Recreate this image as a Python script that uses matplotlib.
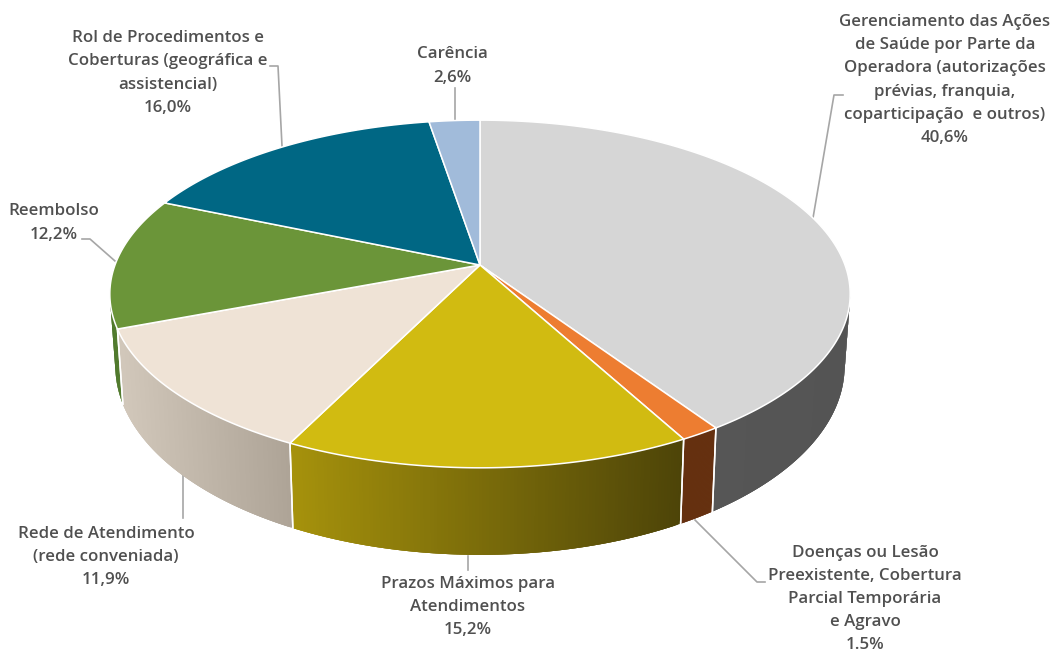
import numpy as np
import matplotlib
matplotlib.use("Agg")
import matplotlib.pyplot as plt
from matplotlib.collections import PolyCollection
from matplotlib.colors import to_rgb

categories = [
    "Gerenciamento das Ações\nde Saúde por Parte da\nOperadora (autorizações\nprévias, franquia,\ncoparticipação  e outros)",
    "Doenças ou Lesão\nPreexistente, Cobertura\nParcial Temporária\ne Agravo",
    "Prazos Máximos para\nAtendimentos",
    "Rede de Atendimento\n(rede conveniada)",
    "Reembolso",
    "Rol de Procedimentos e\nCoberturas (geográfica e\nassistencial)",
    "Carência",
]
values = [40.6, 1.5, 15.2, 11.9, 12.2, 16.0, 2.6]
value_labels = ["40,6%", "1.5%", "15,2%", "11,9%", "12,2%", "16,0%", "2,6%"]
top_colors = ["#d6d6d6", "#ed7d31", "#d1bb11", "#efe3d6", "#6b9539", "#006784", "#a1bbda"]
side_left = ["#565656", "#65300f", "#a6920c", "#d2c8bb", "#4f7a2a", "#004b60", "#7a8ea6"]
side_right = ["#545454", "#65300f", "#4d4408", "#ada396", "#4f7a2a", "#004b60", "#7a8ea6"]

label_centers = [(945, 80), (865, 599), (468, 607), (106, 557), (54, 223), (168, 73), (452, 66)]
leaders = [
    [(843, 95), (834, 95), (813, 218)],
    [(695, 520), (757, 582), (765, 582)],
    [(468, 556), (468, 570)],
    [(183, 475), (183, 518)],
    [(82, 239), (90, 239), (115, 261)],
    [(270, 66), (278, 66), (282, 146)],
    [(455, 88), (455, 121)],
]

W, H = 1053, 654
CX, CY = 480, 265
B, A, K = 365.0, 169.0, 0.1667


def top_pt(theta):
    """Perspective projection of the disc rim; theta clockwise from 12 o'clock."""
    X, Y = np.sin(theta), np.cos(theta)
    d = 1 + K * Y
    return CX + B * X / d, CY - A * Y / d


def bottom_pt(theta):
    x, y = top_pt(theta)
    return CX + (x - CX) * 0.985, CY + 1.086 * (y - CY) + 69.6


fig = plt.figure(figsize=(W / 100, H / 100), dpi=100, facecolor="white")
ax = fig.add_axes([0, 0, 1, 1])
ax.set_xlim(0, W)
ax.set_ylim(H, 0)
ax.axis("off")

edges = np.radians(np.concatenate([[0], np.cumsum(values)]) * 3.6)
wall_lo, wall_hi = np.radians(100), np.radians(258)

# side wall, only on the near half of the disc
for i in range(len(values)):
    a0, a1 = edges[i], edges[i + 1]
    lo, hi = max(a0, wall_lo), min(a1, wall_hi)
    if hi <= lo:
        continue
    th = np.linspace(lo, hi, 120)
    xt, yt = top_pt(th)
    xb, yb = bottom_pt(th)
    xmin, xmax = min(xt.min(), xb.min()), max(xt.max(), xb.max())
    c0, c1 = np.array(to_rgb(side_left[i])), np.array(to_rgb(side_right[i]))
    # overlapping strips painted in sequence, so no background shows at the joins
    polys, cols = [], []
    for j in range(len(th) - 1):
        k = min(j + 3, len(th) - 1)
        polys.append([(xt[j], yt[j]), (xt[k], yt[k]), (xb[k], yb[k]), (xb[j], yb[j])])
        t = (0.5 * (xt[j] + xt[j + 1]) - xmin) / max(xmax - xmin, 1)
        cols.append(c0 + (c1 - c0) * t)
    ax.add_collection(PolyCollection(polys, facecolors=cols, edgecolors="none", zorder=2))
    # white seams between wall segments
    for a in (a0, a1):
        if wall_lo < a < wall_hi:
            xa, ya = top_pt(a)
            xc, yc = bottom_pt(a)
            ax.plot([xa, xc], [ya, yc], color="white", lw=1.1, zorder=3)

# top face
for i in range(len(values)):
    th = np.linspace(edges[i], edges[i + 1], 200)
    x, y = top_pt(th)
    ax.fill(np.r_[CX, x], np.r_[CY, y], facecolor=top_colors[i], edgecolor="white",
            lw=1.1, joinstyle="round", zorder=4)

# leader lines
for pts in leaders:
    xs, ys = zip(*pts)
    ax.plot(xs, ys, color="#a6a6a6", lw=1.2, zorder=1)

# labels
for name, val, (x, y) in zip(categories, value_labels, label_centers):
    ax.text(x, y, f"{name}\n{val}", ha="center", va="center", multialignment="center",
            family="Open Sans", weight="semibold", fontsize=12.2, color="#505050",
            linespacing=1.6, zorder=5, clip_on=False)

fig.savefig("out.png", dpi=100, facecolor="white")
